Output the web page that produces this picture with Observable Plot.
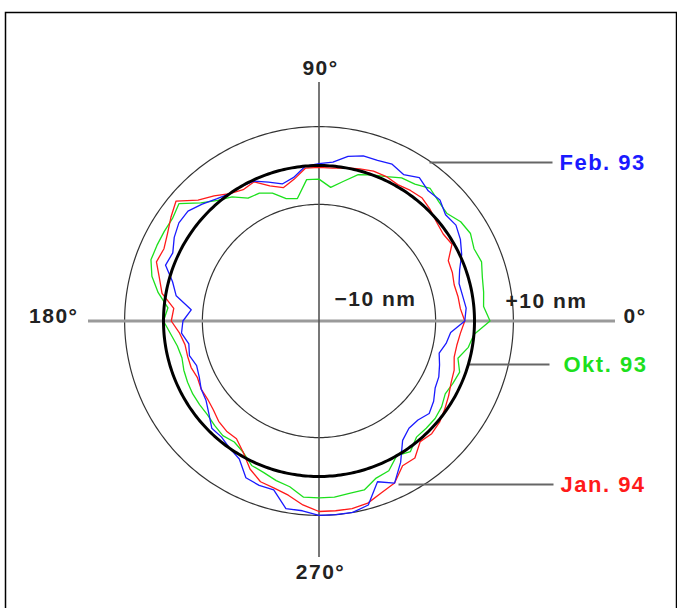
<!DOCTYPE html>
<html><head><meta charset="utf-8">
<script src="https://cdn.jsdelivr.net/npm/d3@7"></script>
<script src="https://cdn.jsdelivr.net/npm/@observablehq/plot@0.6"></script>
<style>html,body{margin:0;padding:0;background:#fff;overflow:hidden}</style>
</head><body><div id="chart"></div>
<script>
// ---- data: radial deviation (nm) from the mean circle, read every 5 degrees ----
const angles = [0,5,10,15,20,25,30,35,40,45,50,55,60,65,70,75,80,85,
  90,95,100,105,110,115,120,125,130,135,140,145,150,155,160,165,170,175,
  180,185,190,195,200,205,210,215,220,225,230,235,240,245,250,255,260,265,
  270,275,280,285,290,295,300,305,310,315,320,325,330,335,340,345,350,355];
const feb93 = [-2.5,-2,-2.5,-2.7,-1.5,0.5,2,3,2.5,4,3.7,5,3.5,4.5,4,4,3,1,
  0.5,0,-2.5,-3.5,-2,-0.3,0,0,1,2.5,4,4,3,1.5,2,-1,-2.7,-7,
  -5,-4.5,-6,-5.5,-6.5,-6,-5,-4.5,-3,-1,-1,0,1,4.5,5,5,9,9,
  10,10,10,9,4,6,2,-2.5,-4,-4,-3,-4,-5.5,-6,-7,-8,-6.8,-6];
const okt93 = [4,2.5,3,3.5,4.5,4,5,4.5,3,3.5,4.5,3,2.5,1,0,-1,-3.5,-5.5,
  -3.5,-3.5,-8,-7.4,-5,-3.7,-3.5,-1,0.5,3,7,6,6,6,6,4.5,2,-1,
  0,-1.7,-3,-3.5,-3,-2.7,-2.5,-2.5,-2.5,-2,-1.5,-2,-1,1,1.5,2.5,3.3,5.5,
  5.5,5.5,5,5,3,2.5,0,1,-1,-1,-1,-1.5,-2.5,-2,-1.5,-3,-1,0];
const jan94 = [-2.5,-3.5,-3.7,-4,-3.5,-3.3,-0.5,-1,-0.5,0.5,1.3,1,0.5,1,1,0.5,0,-0.5,
  -0.5,-0.5,-3,-4.5,-3,-0.5,-1,0,2,4,8,6.5,5,4,4.5,2.5,1,-2.5,
  -2,-4,-5,-5,-5,-5.5,-5,-5,-4.5,-3.5,-3,-3,-1,2,4,4.5,5.5,7.5,
  9,9,9,8.5,7,6,3,3,0.5,1,0.5,-0.5,-1.5,-2.5,-3,-4,-4,-3.5];
const seriesNames = ["Okt. 93", "Jan. 94", "Feb. 93"];
const ringLevels = [-10, 0, 10];
const ringLabels = ["\u221210 nm", "+10 nm"];
const axisLabels = ["0°", "90°", "180°", "270°"];

// ---- layout ----
const W = 677, H = 608, CX = 318.5, CY = 320.5, R0 = 40, K = 155.5 / 40;
const ux = px => (px - CX) / K;
const uy = py => (CY - py) / K;
const polar = (deg, dev) => {
  const r = R0 + dev, a = deg * Math.PI / 180;
  return [r * Math.cos(a), r * Math.sin(a)];
};
const colors = {"Feb. 93": "#1a1aff", "Okt. 93": "#1de01d", "Jan. 94": "#ff1a1a"};
const seriesValues = {"Feb. 93": feb93, "Okt. 93": okt93, "Jan. 94": jan94};

const seriesRows = name => angles.map((a, i) => {
  const [x, y] = polar(a, seriesValues[name][i]);
  return {series: name, angle: a, dev: seriesValues[name][i], x, y};
});
const ringRows = level => d3.range(0, 360, 1).map(a => {
  const [x, y] = polar(a, level);
  return {level, x, y};
});

const font = "Liberation Sans, Arial, Helvetica, sans-serif";

// label placement (pixels -> data units)
const axisLabelPos = [
  {t: axisLabels[0], x: ux(623), y: uy(316), anchor: "start"},
  {t: axisLabels[1], x: ux(320), y: uy(68), anchor: "middle"},
  {t: axisLabels[2], x: ux(78), y: uy(316), anchor: "end"},
  {t: axisLabels[3], x: ux(320), y: uy(572), anchor: "middle"}
];
const ringLabelPos = [
  {t: ringLabels[0], x: ux(334), y: uy(299)},
  {t: ringLabels[1], x: ux(505), y: uy(301)}
];
const legendPos = [
  {name: "Feb. 93", x1: ux(429), x2: ux(552), y: uy(162), tx: ux(559)},
  {name: "Okt. 93", x1: ux(468), x2: ux(549), y: uy(364), tx: ux(563)},
  {name: "Jan. 94", x1: ux(398), x2: ux(553), y: uy(484), tx: ux(560)}
];

const marks = [
  Plot.frame({stroke: "#000", strokeWidth: 1.5, insetLeft: 5, insetTop: 12, insetRight: 1, insetBottom: -6}),
  // thin reference rings
  Plot.line(ringRows(ringLevels[0]), {x: "x", y: "y", stroke: "#333", strokeWidth: 1.2, curve: "linear-closed"}),
  Plot.line(ringRows(ringLevels[2]), {x: "x", y: "y", stroke: "#333", strokeWidth: 1.2, curve: "linear-closed"}),
  // axes
  Plot.ruleY([0], {x1: ux(88), x2: ux(615), stroke: "#9a9a9a", strokeWidth: 3}),
  Plot.ruleX([0], {y1: uy(82), y2: uy(557), stroke: "#555", strokeWidth: 1.6}),
  // leader lines
  Plot.link(legendPos, {x1: "x1", x2: "x2", y1: "y", y2: "y", stroke: "#666", strokeWidth: 2}),
  // series
  ...seriesNames.map(n => Plot.line(seriesRows(n), {x: "x", y: "y", stroke: colors[n], strokeWidth: 1.3, curve: "linear-closed"})),
  // mean circle
  Plot.line(ringRows(ringLevels[1]), {x: "x", y: "y", stroke: "#000", strokeWidth: 3, curve: "linear-closed"}),
  // texts
  ...axisLabelPos.map(d => Plot.text([d], {x: "x", y: "y", text: "t", textAnchor: d.anchor, fontSize: 21, fontWeight: "bold", fill: "#222", fontFamily: font})),
  Plot.text(ringLabelPos, {x: "x", y: "y", text: "t", textAnchor: "start", fontSize: 21, fontWeight: "bold", fill: "#222", fontFamily: font}),
  Plot.text(legendPos, {x: "tx", y: "y", text: "name", textAnchor: "start", fontSize: 22, fontWeight: "bold", fill: d => colors[d.name], fontFamily: font})
];

const chart = Plot.plot({
  width: W, height: H, margin: 0,
  style: {background: "#fff", letterSpacing: "1.5px", overflow: "hidden"},
  x: {domain: [ux(0), ux(W)], axis: null},
  y: {domain: [uy(H), uy(0)], axis: null},
  marks
});
document.getElementById("chart").appendChild(chart);
</script>
</body></html>
